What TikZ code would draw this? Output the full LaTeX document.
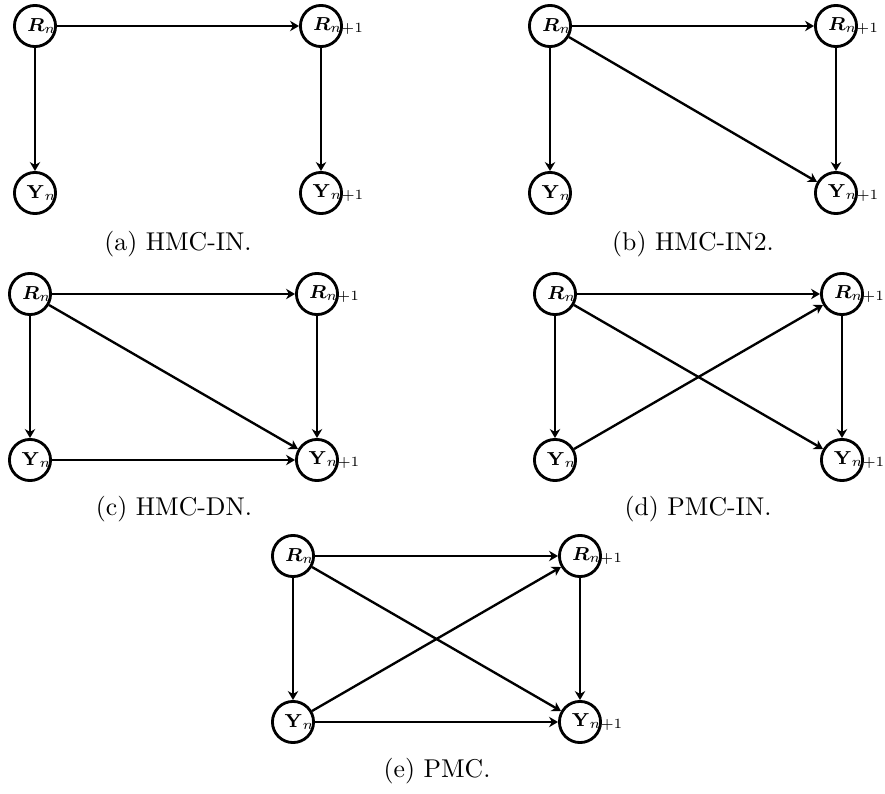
\documentclass[tikz,border=0pt]{standalone}
\usepackage{amsmath,mathtools}
\usetikzlibrary{arrows.meta,backgrounds}

% Variable labels: the base letter sits near the centre of the circle,
% the subscript runs out to the right.
\newcommand{\rvar}[1]{\hspace{0.6pt}$\boldsymbol{R}\mathrlap{_{#1}}$}
\newcommand{\yvar}[1]{\hspace{0.6pt}$\mathbf{Y}\mathrlap{_{#1}}$}

\begin{document}
\begin{tikzpicture}[
  x=0.4255pt, y=-0.4255pt,
  var/.style={circle, draw, line width=1.2pt, minimum size=17.5pt, inner sep=0pt,
              font=\fontsize{8.5}{10}\selectfont},
  edge/.style={line width=1pt, -{Stealth[length=3.8pt, width=4.4pt, inset=1.2pt]}},
  subcaption/.style={anchor=base, font=\fontsize{10.95}{13.6}\selectfont}
]
\useasboundingbox (0,0) rectangle (885,794);

% ---- variables ----
% (a) HMC-IN
\node[var] (aR)  at (35,26)   {\rvar{n}};
\node[var] (aR1) at (321,26)  {\rvar{n+1}};
\node[var] (aY)  at (35,193)  {\yvar{n}};
\node[var] (aY1) at (321,193) {\yvar{n+1}};
\node[subcaption] (acap) at (178,250) {(a) HMC-IN.};

% (b) HMC-IN2
\node[var] (bR)  at (550,26)  {\rvar{n}};
\node[var] (bR1) at (836,26)  {\rvar{n+1}};
\node[var] (bY)  at (550,193) {\yvar{n}};
\node[var] (bY1) at (836,193) {\yvar{n+1}};
\node[subcaption] (bcap) at (693,250) {(b) HMC-IN2.};

% (c) HMC-DN
\node[var] (cR)  at (30,294)  {\rvar{n}};
\node[var] (cR1) at (317,294) {\rvar{n+1}};
\node[var] (cY)  at (30,460)  {\yvar{n}};
\node[var] (cY1) at (317,460) {\yvar{n+1}};
\node[subcaption] (ccap) at (174,515) {(c) HMC-DN.};

% (d) PMC-IN
\node[var] (dR)  at (555,294) {\rvar{n}};
\node[var] (dR1) at (842,294) {\rvar{n+1}};
\node[var] (dY)  at (555,460) {\yvar{n}};
\node[var] (dY1) at (842,460) {\yvar{n+1}};
\node[subcaption] (dcap) at (698,515) {(d) PMC-IN.};

% (e) PMC
\node[var] (eR)  at (293,556) {\rvar{n}};
\node[var] (eR1) at (580,556) {\rvar{n+1}};
\node[var] (eY)  at (293,722) {\yvar{n}};
\node[var] (eY1) at (580,722) {\yvar{n+1}};
\node[subcaption] (ecap) at (437,777) {(e) PMC.};

% ---- dependencies, kept behind the labels ----
\begin{pgfonlayer}{background}
  % (a)
  \draw[edge] (aR) -- (aR1);
  \draw[edge] (aR) -- (aY);
  \draw[edge] (aR1) -- (aY1);
  % (b)
  \draw[edge] (bR) -- (bR1);
  \draw[edge] (bR) -- (bY);
  \draw[edge] (bR1) -- (bY1);
  \draw[edge] (bR) -- (bY1);
  % (c)
  \draw[edge] (cR) -- (cR1);
  \draw[edge] (cR) -- (cY);
  \draw[edge] (cR1) -- (cY1);
  \draw[edge] (cR) -- (cY1);
  \draw[edge] (cY) -- (cY1);
  % (d)
  \draw[edge] (dR) -- (dR1);
  \draw[edge] (dR) -- (dY);
  \draw[edge] (dR1) -- (dY1);
  \draw[edge] (dR) -- (dY1);
  \draw[edge] (dY) -- (dR1);
  % (e)
  \draw[edge] (eR) -- (eR1);
  \draw[edge] (eR) -- (eY);
  \draw[edge] (eR1) -- (eY1);
  \draw[edge] (eR) -- (eY1);
  \draw[edge] (eY) -- (eR1);
  \draw[edge] (eY) -- (eY1);
\end{pgfonlayer}
\end{tikzpicture}
\end{document}
